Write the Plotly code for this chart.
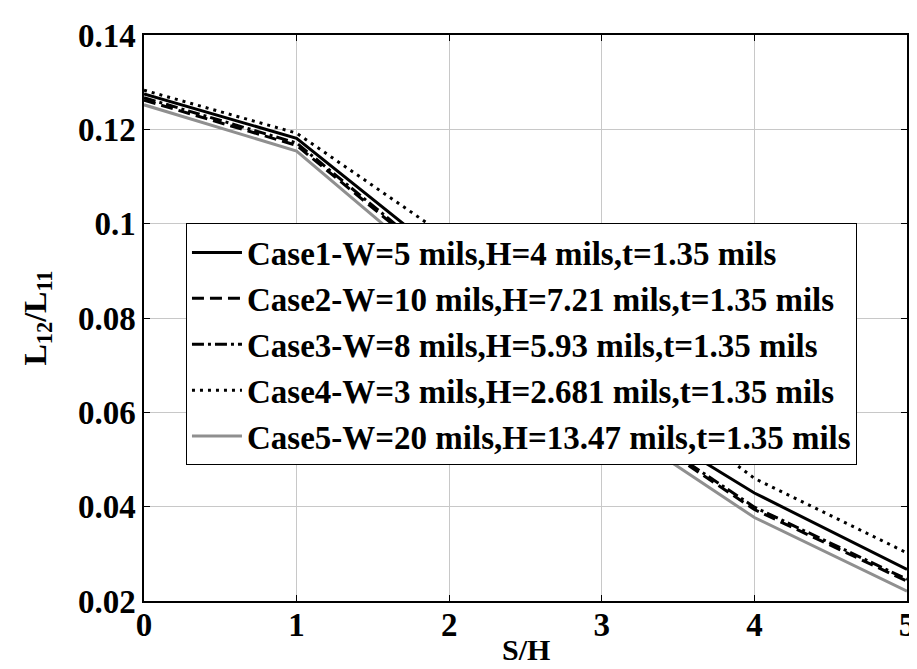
import plotly.graph_objects as go

x_vals = [0, 1, 2, 3, 4, 5]
case1 = [0.1275, 0.1181, 0.0922, 0.0627, 0.0429, 0.0267]
case2 = [0.1262, 0.1166, 0.0900, 0.0610, 0.0394, 0.0242]
case3 = [0.1267, 0.1171, 0.0905, 0.0615, 0.0399, 0.0246]
case4 = [0.1283, 0.1192, 0.0969, 0.0704, 0.0460, 0.0302]
case5 = [0.1252, 0.1154, 0.0880, 0.0592, 0.0377, 0.0221]

names = [
    "Case1-W=5 mils,H=4 mils,t=1.35 mils",
    "Case2-W=10 mils,H=7.21 mils,t=1.35 mils",
    "Case3-W=8 mils,H=5.93 mils,t=1.35 mils",
    "Case4-W=3 mils,H=2.681 mils,t=1.35 mils",
    "Case5-W=20 mils,H=13.47 mils,t=1.35 mils",
]
series = [case1, case2, case3, case4, case5]
styles = [
    dict(color="black", dash="solid"),
    dict(color="black", dash="12px,6px"),
    dict(color="black", dash="12px,4px,3px,4px"),
    dict(color="black", dash="3px,5px"),
    dict(color="#8f8f8f", dash="solid"),
]

font_family = "Liberation Serif, Times New Roman, serif"

fig = go.Figure()
for n, s, st in zip(names, series, styles):
    fig.add_trace(go.Scatter(
        x=x_vals, y=s, mode="lines", name="<b>" + n + "</b>",
        line=dict(color=st["color"], dash=st["dash"], width=3),
    ))

axis_common = dict(
    showline=True, linecolor="black", linewidth=1.5, mirror="ticks",
    ticks="inside", ticklen=6, tickcolor="black", tickwidth=1,
    showgrid=True, gridcolor="#c8c8c8", gridwidth=1,
    zeroline=False, ticklabeloverflow="allow",
    tickfont=dict(family=font_family, size=33, color="black"),
)

fig.update_layout(
    width=917, height=669,
    margin=dict(l=136, r=10, t=17, b=76),
    paper_bgcolor="white", plot_bgcolor="white",
    font=dict(family=font_family, size=33, color="black"),
    showlegend=True,
    legend=dict(
        x=0.055, y=0.667, xanchor="left", yanchor="top",
        bgcolor="white", bordercolor="black", borderwidth=1,
        font=dict(family=font_family, size=33, color="black"),
        tracegroupgap=0, itemwidth=50,
    ),
    annotations=[dict(
        text="<b>S/H</b>", xref="paper", yref="paper", x=0.5, y=-0.118,
        xanchor="center", yanchor="bottom", showarrow=False,
        font=dict(family=font_family, size=30, color="black"),
    )],
)
fig.update_xaxes(
    range=[0, 5], tickvals=[0, 1, 2, 3, 4, 5],
    ticktext=["<b>0</b>", "<b>1</b>", "<b>2</b>", "<b>3</b>", "<b>4</b>", "<b>5</b>"],
    ticklabelstandoff=-6,
    **axis_common,
)
fig.update_yaxes(
    range=[0.02, 0.14], tickvals=[0.02, 0.04, 0.06, 0.08, 0.1, 0.12, 0.14],
    ticktext=["<b>0.02</b>", "<b>0.04</b>", "<b>0.06</b>", "<b>0.08</b>", "<b>0.1</b>", "<b>0.12</b>", "<b>0.14</b>"],
    title=dict(text="<b>L<sub>12</sub>/L<sub>11</sub></b>", standoff=22, font=dict(family=font_family, size=32)),
    **axis_common,
)

fig.write_html("out.html")
